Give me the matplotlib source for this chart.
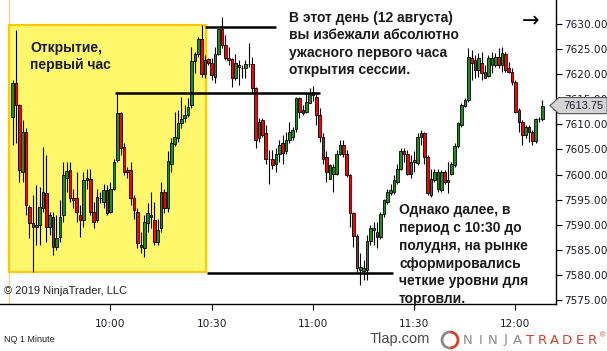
import matplotlib.pyplot as plt
from matplotlib.patches import Rectangle, Polygon, Arc

# NQ 1 minute, 12 Aug 2019, bars from 9:31 to 12:08
opens = [7611.5, 7618.2, 7613.9, 7600.6, 7608.5, 7593.6, 7590.3, 7589.6, 7590.0, 7593.3,
         7596.3, 7589.6, 7591.6, 7585.6, 7587.6, 7591.9, 7599.3, 7601.0, 7595.4, 7595.3,
         7591.9, 7590.9, 7599.0, 7599.2, 7592.6, 7590.9, 7595.3, 7594.6, 7596.9, 7592.6,
         7597.2, 7602.9, 7612.2, 7605.4, 7600.9, 7600.9, 7595.3, 7592.6, 7586.0, 7585.3,
         7590.3, 7592.0, 7591.0, 7586.6, 7589.3, 7596.6, 7593.3, 7602.2, 7606.0, 7607.2,
         7610.2, 7611.2, 7611.9, 7613.9, 7622.7, 7624.0, 7627.0, 7620.0, 7623.0, 7622.2,
         7619.5, 7624.0, 7629.0, 7625.8, 7623.2, 7623.0, 7619.2, 7621.9, 7621.3, 7621.3,
         7622.0, 7622.0, 7617.2, 7607.2, 7610.8, 7608.2, 7603.2, 7603.2, 7602.2, 7604.2,
         7606.2, 7604.6, 7606.9, 7607.5, 7609.1, 7615.2, 7612.8, 7612.5, 7614.2, 7616.5,
         7615.5, 7611.9, 7607.5, 7603.5, 7599.2, 7600.2, 7600.2, 7604.2, 7605.9, 7604.2,
         7600.0, 7592.3, 7587.8, 7581.0, 7580.8, 7580.9, 7586.8, 7589.0, 7588.6, 7587.6,
         7592.2, 7594.6, 7596.4, 7596.6, 7598.6, 7601.2, 7604.6, 7604.2, 7600.2, 7602.6,
         7602.3, 7607.5, 7608.2, 7603.6, 7595.9, 7598.9, 7597.2, 7596.9, 7600.6, 7598.6,
         7600.2, 7601.9, 7605.6, 7609.9, 7613.7, 7614.9, 7623.2, 7622.8, 7620.8, 7622.2,
         7620.5, 7619.7, 7621.8, 7621.8, 7623.5, 7621.8, 7624.0, 7621.2, 7620.5, 7618.5,
         7612.9, 7610.5, 7607.9, 7609.5, 7608.5, 7606.6, 7611.1, 7611.1]
highs = [7618.8, 7628.8, 7614.0, 7610.9, 7609.2, 7594.0, 7596.0, 7598.0, 7597.6, 7605.5,
         7603.9, 7592.6, 7592.6, 7591.9, 7594.9, 7602.6, 7602.6, 7602.6, 7597.2, 7600.6,
         7593.9, 7600.6, 7601.2, 7601.2, 7594.6, 7597.2, 7596.6, 7598.2, 7597.9, 7598.6,
         7603.2, 7616.2, 7612.5, 7606.2, 7601.6, 7602.6, 7595.9, 7593.3, 7588.6, 7591.9,
         7594.3, 7596.6, 7594.6, 7591.2, 7598.6, 7597.2, 7604.6, 7607.2, 7612.5, 7612.9,
         7615.5, 7613.9, 7615.2, 7625.5, 7624.5, 7627.5, 7629.8, 7623.8, 7623.2, 7623.2,
         7625.5, 7629.1, 7631.5, 7627.8, 7625.5, 7623.2, 7624.0, 7622.8, 7621.8, 7622.8,
         7626.2, 7623.5, 7617.5, 7611.2, 7611.2, 7609.9, 7604.9, 7604.9, 7605.2, 7606.9,
         7607.9, 7608.5, 7610.5, 7609.5, 7615.5, 7615.5, 7613.9, 7616.2, 7617.2, 7617.7,
         7616.5, 7613.2, 7608.2, 7604.6, 7602.2, 7602.2, 7604.9, 7606.9, 7606.9, 7604.9,
         7600.2, 7592.6, 7588.2, 7584.4, 7583.0, 7588.0, 7589.9, 7590.6, 7590.6, 7592.6,
         7595.2, 7597.2, 7598.2, 7599.9, 7602.2, 7605.2, 7605.2, 7604.9, 7603.9, 7604.6,
         7608.2, 7608.9, 7608.5, 7603.9, 7601.2, 7601.2, 7601.2, 7600.9, 7600.9, 7602.6,
         7602.6, 7606.2, 7610.5, 7614.2, 7615.2, 7625.2, 7624.8, 7623.8, 7624.2, 7624.5,
         7621.8, 7623.8, 7624.5, 7624.2, 7625.2, 7625.5, 7624.5, 7622.5, 7621.2, 7618.8,
         7613.2, 7610.9, 7609.9, 7609.9, 7608.9, 7611.2, 7611.5, 7614.9]
lows = [7605.9, 7606.2, 7598.6, 7598.6, 7591.9, 7587.3, 7580.6, 7586.0, 7586.0, 7592.6,
        7586.6, 7588.0, 7584.0, 7585.0, 7586.6, 7590.6, 7596.6, 7594.6, 7593.3, 7590.6,
        7587.6, 7589.6, 7597.2, 7591.9, 7589.3, 7590.6, 7594.3, 7593.3, 7591.9, 7592.3,
        7596.9, 7602.6, 7603.9, 7599.9, 7599.3, 7593.9, 7591.2, 7585.3, 7584.3, 7583.6,
        7588.6, 7589.3, 7585.9, 7585.9, 7588.6, 7592.3, 7592.6, 7600.6, 7605.6, 7606.5,
        7609.2, 7610.5, 7611.5, 7613.2, 7620.2, 7623.5, 7619.5, 7619.2, 7621.8, 7618.8,
        7618.2, 7623.8, 7625.2, 7622.8, 7621.8, 7617.5, 7618.8, 7617.8, 7619.2, 7619.2,
        7621.5, 7616.5, 7605.2, 7606.5, 7607.5, 7602.2, 7598.2, 7601.2, 7600.6, 7602.6,
        7602.2, 7604.2, 7606.2, 7606.9, 7608.5, 7611.2, 7611.9, 7612.2, 7614.2, 7614.7,
        7609.9, 7606.5, 7602.2, 7598.6, 7599.2, 7596.6, 7599.9, 7603.9, 7603.6, 7599.6,
        7589.6, 7585.6, 7580.6, 7578.0, 7579.0, 7579.0, 7586.0, 7586.0, 7585.3, 7587.2,
        7591.6, 7594.2, 7595.9, 7596.2, 7598.2, 7600.9, 7602.6, 7599.9, 7599.3, 7600.6,
        7601.9, 7605.9, 7602.2, 7595.9, 7595.6, 7598.6, 7596.6, 7596.6, 7598.2, 7596.3,
        7599.9, 7601.6, 7605.2, 7609.5, 7613.5, 7614.5, 7618.8, 7619.2, 7619.5, 7618.8,
        7619.2, 7619.5, 7620.2, 7621.5, 7621.2, 7620.5, 7620.5, 7620.2, 7617.8, 7612.2,
        7608.5, 7605.9, 7607.2, 7606.5, 7605.9, 7606.2, 7610.5, 7610.7]
closes = [7618.2, 7613.9, 7600.9, 7608.5, 7593.9, 7590.3, 7589.6, 7590.0, 7593.6, 7596.6,
          7589.6, 7591.9, 7585.6, 7587.3, 7591.6, 7600.0, 7600.7, 7595.3, 7594.9, 7592.6,
          7590.9, 7599.0, 7599.4, 7592.6, 7590.6, 7595.6, 7595.3, 7596.9, 7592.3, 7597.2,
          7602.6, 7612.2, 7605.2, 7600.6, 7600.6, 7595.3, 7592.9, 7586.3, 7585.5, 7590.6,
          7592.3, 7591.5, 7586.6, 7588.9, 7596.6, 7593.3, 7602.7, 7606.2, 7607.4, 7610.2,
          7611.0, 7611.9, 7613.5, 7622.7, 7624.0, 7627.0, 7620.0, 7622.8, 7622.2, 7619.8,
          7624.0, 7629.0, 7625.8, 7623.2, 7622.8, 7619.2, 7622.2, 7621.5, 7621.3, 7622.0,
          7622.0, 7617.2, 7606.9, 7610.5, 7607.9, 7603.1, 7603.2, 7602.0, 7604.2, 7605.9,
          7604.4, 7606.9, 7608.5, 7608.9, 7615.2, 7612.5, 7612.2, 7614.5, 7616.2, 7615.8,
          7611.9, 7607.5, 7603.2, 7600.6, 7601.9, 7601.5, 7604.2, 7605.8, 7604.2, 7599.9,
          7592.3, 7587.8, 7581.3, 7581.5, 7581.3, 7586.8, 7589.3, 7589.4, 7587.6, 7592.2,
          7594.9, 7596.6, 7596.9, 7598.9, 7601.2, 7604.6, 7604.2, 7600.2, 7602.6, 7603.0,
          7607.5, 7608.2, 7603.6, 7596.3, 7599.2, 7600.6, 7600.6, 7600.6, 7598.6, 7598.9,
          7602.2, 7605.6, 7610.2, 7613.9, 7614.9, 7623.5, 7622.2, 7620.8, 7623.2, 7620.2,
          7619.3, 7623.2, 7623.3, 7623.5, 7621.8, 7624.2, 7620.8, 7620.5, 7618.5, 7612.5,
          7610.5, 7607.9, 7609.5, 7608.5, 7606.6, 7611.1, 7611.1, 7613.75]

time_ticks = [30, 60, 90, 120, 150]          # minutes after 9:30
time_labels = ['10:00', '10:30', '11:00', '11:30', '12:00']
price_ticks = [7575, 7580, 7585, 7590, 7595, 7600, 7605, 7610, 7615, 7620, 7625, 7630]

first_hour = (0, 58.3, 7580.5, 7629.8)      # start, end, low, high
levels = [(7629.4, 58.0, 79.0), (7616.3, 31.3, 92.0), (7580.4, 58.6, 113.7)]

W, H = 607, 351
fig = plt.figure(figsize=(W / 100, H / 100), dpi=100)
ax = fig.add_axes([0, 1 - 304 / H, 556 / W, 304 / H])
plt.rcParams['font.family'] = ['Liberation Sans', 'DejaVu Sans']

def fx(x):
    return x / W

def fy(y):
    return 1 - y / H

# first hour box
ax.axvline(first_hour[0], color='#ffd84a', lw=1, zorder=0.5)
ax.add_patch(Rectangle((first_hour[0], first_hour[2]), first_hour[1] - first_hour[0],
                       first_hour[3] - first_hour[2], facecolor='#fff86c',
                       edgecolor='#ffc800', lw=1.5, zorder=1))

# candles
minutes = [i + 1 for i in range(len(closes))]
for m, o, h, l, c in zip(minutes, opens, highs, lows, closes):
    ax.vlines(m, l, h, color='black', lw=0.8, zorder=3)
    col = '#1e8c1e' if c > o else ('#ff0000' if c < o else 'black')
    ax.bar(m, c - o, bottom=o, width=0.75, color=col, edgecolor='black', lw=0.6, zorder=3.5)

for price, x0, x1 in levels:
    ax.hlines(price, x0, x1, color='black', lw=1.8, zorder=4)

ax.set_xlim(-2.74, 162.0)
ax.set_ylim(7574.2, 7634.8)
ax.set_xticks(time_ticks)
ax.set_xticklabels(time_labels)
ax.set_yticks(price_ticks)
ax.set_yticklabels(['%.2f' % p for p in price_ticks])
ax.yaxis.tick_right()
ax.tick_params(axis='both', labelsize=7.6, length=4, width=0.8, colors='black',
               labelcolor='#1c1c2c')
ax.tick_params(axis='x', pad=7)
ax.tick_params(axis='y', pad=2)
for s in ['left', 'top']:
    ax.spines[s].set_visible(False)
for s in ['right', 'bottom']:
    ax.spines[s].set_linewidth(1)

# last price marker
last = closes[-1]
ax.add_patch(Polygon([(0.989, last), (1.005, last + 1.6), (1.092, last + 1.6),
                      (1.092, last - 1.6), (1.005, last - 1.6)], closed=True,
                     transform=ax.get_yaxis_transform(), clip_on=False,
                     facecolor='#d4d4d4', edgecolor='#555555', lw=0.8, zorder=6))
ax.text(1.014, last, '%.2f' % last, transform=ax.get_yaxis_transform(), fontsize=8,
        va='center', ha='left', color='#1c1c2c', zorder=7, clip_on=False)

# texts
fig.text(fx(30), fy(41), 'Открытие,\nпервый час', fontsize=10, fontweight='bold',
         color='#1a1a1a', va='top', linespacing=1.3)
fig.text(fx(289), fy(11), 'В этот день (12 августа)\nвы избежали абсолютно\n'
         'ужасного первого часа\nоткрытия сессии.', fontsize=10, fontweight='bold',
         color='#1a1a1a', va='top', linespacing=1.3)
fig.text(fx(399), fy(203), 'Однако далее, в\nпериод с 10:30 до\nполудня, на рынке\n'
         'сформировались\nчеткие уровни для\nторговли.', fontsize=10, fontweight='bold',
         color='#1a1a1a', va='top', linespacing=1.35)
fig.text(fx(522), fy(21), '→', fontsize=15, color='black', va='center',
         family='DejaVu Sans')
fig.text(fx(4), fy(291), '© 2019 NinjaTrader, LLC', fontsize=8, color='#222222',
         va='center')
fig.text(fx(4), fy(340), 'NQ 1 Minute', fontsize=6.5, color='#222222', va='center')
fig.text(fx(370), fy(339), 'Tlap.com', fontsize=10.5, color='#4a4a4a', va='center')

# NinjaTrader logo
fig.add_artist(Arc((fx(450), fy(340)), 16 / W, 16 / H, theta1=90, theta2=270,
                   color='#8a8a8a', lw=2, transform=fig.transFigure))
fig.add_artist(Arc((fx(450), fy(340)), 16 / W, 16 / H, theta1=-90, theta2=90,
                   color='#d2412f', lw=2, transform=fig.transFigure))
for k, ch in enumerate('NINJATRADER'):
    fig.text(fx(468 + 12.4 * k), fy(340), ch, fontsize=9.5, va='center', ha='center',
             color='#8a8a8a' if k < 5 else '#d2412f', family='DejaVu Sans')
fig.text(fx(600), fy(336), '®', fontsize=5, va='center', color='#d2412f')

fig.savefig('out.png', dpi=100)
